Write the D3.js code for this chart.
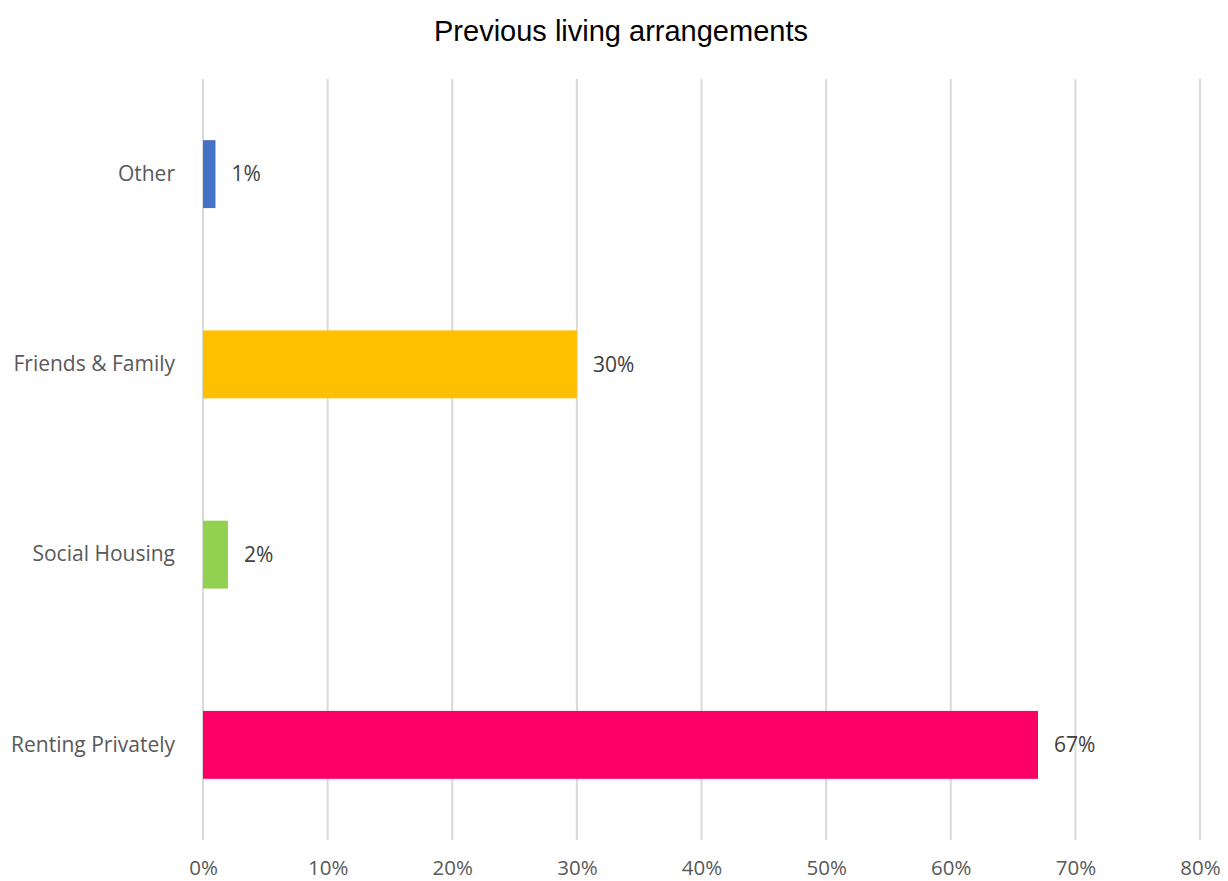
<!DOCTYPE html>
<html>
<head>
<meta charset="utf-8">
<script src="https://cdn.jsdelivr.net/npm/d3@7"></script>
<style>
  html, body { margin: 0; padding: 0; background: #fff; }
  svg { display: block; }
</style>
</head>
<body>
<svg id="chart" width="1228" height="881"></svg>
<script>
// Previous living arrangements (share of respondents)
const categories = ["Other", "Friends & Family", "Social Housing", "Renting Privately"];
const values = [1, 30, 2, 67];
const barColors = ["#4472C4", "#FFC000", "#92D050", "#FF0066"];
const tickValues = [0, 10, 20, 30, 40, 50, 60, 70, 80];

const svg = d3.select("#chart");
const W = 1228, H = 881;
const margin = { left: 203, right: 28, top: 79, bottom: 41 };

const x = d3.scaleLinear().domain([0, 80]).range([margin.left, W - margin.right]);
const y = d3.scaleBand().domain(categories).range([margin.top, H - margin.bottom]).paddingInner(0.643).paddingOuter(0.3215);

const labelFont = "'Open Sans', 'DejaVu Sans', sans-serif";

// Title
svg.append("text")
  .attr("x", 621).attr("y", 41)
  .attr("text-anchor", "middle")
  .style("font-family", "'Liberation Sans', Arial, sans-serif")
  .style("font-size", "29px")
  .style("fill", "#000")
  .text("Previous living arrangements");

// Vertical gridlines
svg.append("g").selectAll("line")
  .data(tickValues)
  .join("line")
  .attr("x1", d => x(d)).attr("x2", d => x(d))
  .attr("y1", margin.top).attr("y2", H - margin.bottom)
  .attr("stroke", "#d9d9d9")
  .attr("stroke-width", 2);

// X axis tick labels
const xAxis = d3.axisBottom(x).tickValues(tickValues).tickFormat(d => d + "%").tickSize(0).tickPadding(0);
const gx = svg.append("g").attr("transform", `translate(0, ${H - margin.bottom})`).call(xAxis);
gx.select(".domain").remove();
gx.selectAll("text")
  .attr("y", 28)
  .attr("dy", "0.35em")
  .style("font-family", labelFont)
  .style("font-size", "20.5px")
  .style("fill", "#595959");

// Category labels
const yAxis = d3.axisLeft(y).tickSize(0).tickPadding(28);
const gy = svg.append("g").attr("transform", `translate(${margin.left}, 0)`).call(yAxis);
gy.select(".domain").remove();
gy.selectAll("text")
  .style("font-family", labelFont)
  .style("font-size", "21px")
  .style("fill", "#595959");

// Bars
const data = categories.map((c, i) => ({ c, v: values[i], color: barColors[i] }));
svg.append("g").selectAll("rect")
  .data(data)
  .join("rect")
  .attr("x", x(0))
  .attr("y", d => y(d.c))
  .attr("width", d => x(d.v) - x(0))
  .attr("height", y.bandwidth())
  .attr("fill", d => d.color);

// Value labels
svg.append("g").selectAll("text")
  .data(data)
  .join("text")
  .attr("x", d => x(d.v) + 16)
  .attr("y", d => y(d.c) + y.bandwidth() / 2)
  .attr("dy", "0.35em")
  .style("font-family", labelFont)
  .style("font-size", "21px")
  .style("fill", "#404040")
  .text(d => d.v + "%");
</script>
</body>
</html>
